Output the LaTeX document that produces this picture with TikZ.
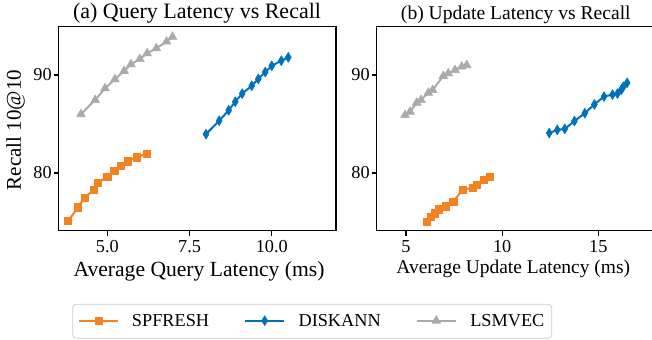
\documentclass[tikz,border=0pt]{standalone}
\usepackage{fontspec}
\setmainfont{Liberation Serif}
\usetikzlibrary{plotmarks}

\definecolor{spfresh}{RGB}{245,130,32}
\definecolor{diskann}{RGB}{0,114,189}
\definecolor{lsmvec}{RGB}{170,170,170}

\begin{document}
\begin{tikzpicture}[x=0.75pt,y=-0.75pt,
  axframe/.style={line width=1pt},
  ticklab/.style={inner sep=0pt,font=\fontsize{13.7}{16}\selectfont},
  axlab/.style={inner sep=0pt,font=\fontsize{16.2}{19}\selectfont},
  smalllab/.style={inner sep=0pt,font=\fontsize{14.6}{17}\selectfont},
  sp/.style={color=spfresh,line width=1.5pt,line join=round,mark=square*,mark size=2.7pt,mark options={line width=0.4pt}},
  dk/.style={color=diskann,line width=1.5pt,line join=round,mark=diamond*,mark size=3.75pt,mark options={xscale=0.8,line width=0.4pt}},
  ls/.style={color=lsmvec,line width=1.5pt,line join=round,mark=triangle*,mark size=3.8pt,mark options={line width=0.4pt}}]
\useasboundingbox (0,0) rectangle (652,339);

% Define coordinates (frame corners, in pixels)
\coordinate (qnw) at (58.7,26.7);
\coordinate (qse) at (336,230.7);
\coordinate (unw) at (376.7,26.7);
\coordinate (use) at (652,230.7);

% PANEL (a): frame and ticks
\draw[axframe] (qnw) rectangle (qse);
\foreach \px/\lab [count=\i] in {107.3/5.0,189.6/7.5,271.8/10.0}{
  \draw[axframe] (\px,230.7) -- (\px,235.7);
  \node[ticklab,anchor=north] (qxt\i) at (\px,240) {\lab};
}
\foreach \py/\lab [count=\i] in {173/80,75/90}{
  \draw[axframe] (58.7,\py) -- (53.7,\py);
  \node[ticklab,anchor=east] (qyt\i) at (52,\py) {\lab};
}
\node[axlab,font=\fontsize{16.5}{19}\selectfont] (qtitle) at (197,13.5) {(a) Query Latency vs Recall};
\node[axlab] (qxlab) at (199,271) {Average Query Latency (ms)};
\node[axlab,font=\fontsize{15.75}{18}\selectfont,rotate=90] (qylab) at (15.5,130) {Recall 10@10};

% PANEL (a): data
\begin{scope}[shift={(-57.2,957)},x=24.675pt,y=7.35pt]
\draw[sp] plot coordinates {(3.81,75.1) (4.11,76.5) (4.31,77.5) (4.60,78.3) (4.70,79.0) (5.00,79.6) (5.21,80.2) (5.41,80.7) (5.61,81.2) (5.90,81.6) (6.21,82.0)};
\draw[dk] plot coordinates {(8.00,83.96) (8.40,85.33) (8.69,86.4) (8.89,87.28) (9.10,88.1) (9.39,88.9) (9.59,89.6) (9.80,90.3) (10.0,90.94) (10.29,91.46) (10.5,91.8)};
\draw[ls] plot coordinates {(4.20,86.0) (4.63,87.45) (4.93,88.64) (5.23,89.56) (5.51,90.41) (5.72,91.09) (5.99,91.63) (6.21,92.21) (6.49,92.72) (6.80,93.4) (6.98,93.9)};
\end{scope}

% PANEL (b): frame and ticks
\draw[axframe] (use -| unw) -- (unw) -- (unw -| use);
\draw[axframe] (unw |- use) -- (use);
\foreach \px/\lab [count=\i] in {406/5,502.2/10,598.3/15}{
  \draw[axframe] (\px,230.7) -- (\px,235.7);
  \node[ticklab,anchor=north] (uxt\i) at (\px,240) {\lab};
}
\foreach \py/\lab [count=\i] in {173/80,75/90}{
  \draw[axframe] (376.7,\py) -- (371.7,\py);
  \node[ticklab,anchor=east] (uyt\i) at (370,\py) {\lab};
}
\node[smalllab,font=\fontsize{14.7}{17}\selectfont] (utitle) at (515.8,15) {(b) Update Latency vs Recall};
\node[smalllab] (uxlab) at (513.3,268.5) {Average Update Latency (ms)};

% PANEL (b): data
\begin{scope}[shift={(309.85,957)},x=14.42pt,y=7.35pt]
\draw[sp] plot coordinates {(6.08,75.03) (6.28,75.5) (6.50,75.9) (6.72,76.3) (7.08,76.6) (7.46,77.1) (7.95,78.3) (8.47,78.5) (8.67,78.8) (9.05,79.3) (9.37,79.6)};
\draw[dk] plot coordinates {(12.45,84.08) (12.87,84.4) (13.26,84.5) (13.76,85.3) (14.3,86.1) (14.8,87.0) (15.3,87.8) (15.74,88.0) (16.0,88.1) (16.2,88.5) (16.3,88.8) (16.5,89.2)};
\draw[ls] plot coordinates {(4.95,85.9) (5.21,86.25) (5.56,87.17) (5.78,87.45) (6.16,88.19) (6.39,88.47) (6.94,89.9) (7.20,90.16) (7.55,90.5) (7.90,90.85) (8.16,91.0)};
\end{scope}

% LEGEND
\draw[black!20,line width=0.6pt,rounded corners=2.5pt] (72.7,304.3) rectangle (551.7,338.3);
\draw[sp,line width=1.2pt,mark indices={2}] plot coordinates {(79.3,320.7) (98.8,320.7) (118.3,320.7)};
\draw[dk,line width=1.2pt,mark indices={2}] plot coordinates {(245,320.7) (264.7,320.7) (284.3,320.7)};
\draw[ls,line width=1.2pt,mark indices={2}] plot coordinates {(416.7,320.7) (436.3,320.7) (456,320.7)};
\node[ticklab,anchor=west] (lsp) at (131.7,320.3) {SPFRESH};
\node[ticklab,anchor=west] (ldk) at (298.3,320.3) {DISKANN};
\node[ticklab,anchor=west] (lls) at (470,320.3) {LSMVEC};

\end{tikzpicture}
\end{document}
